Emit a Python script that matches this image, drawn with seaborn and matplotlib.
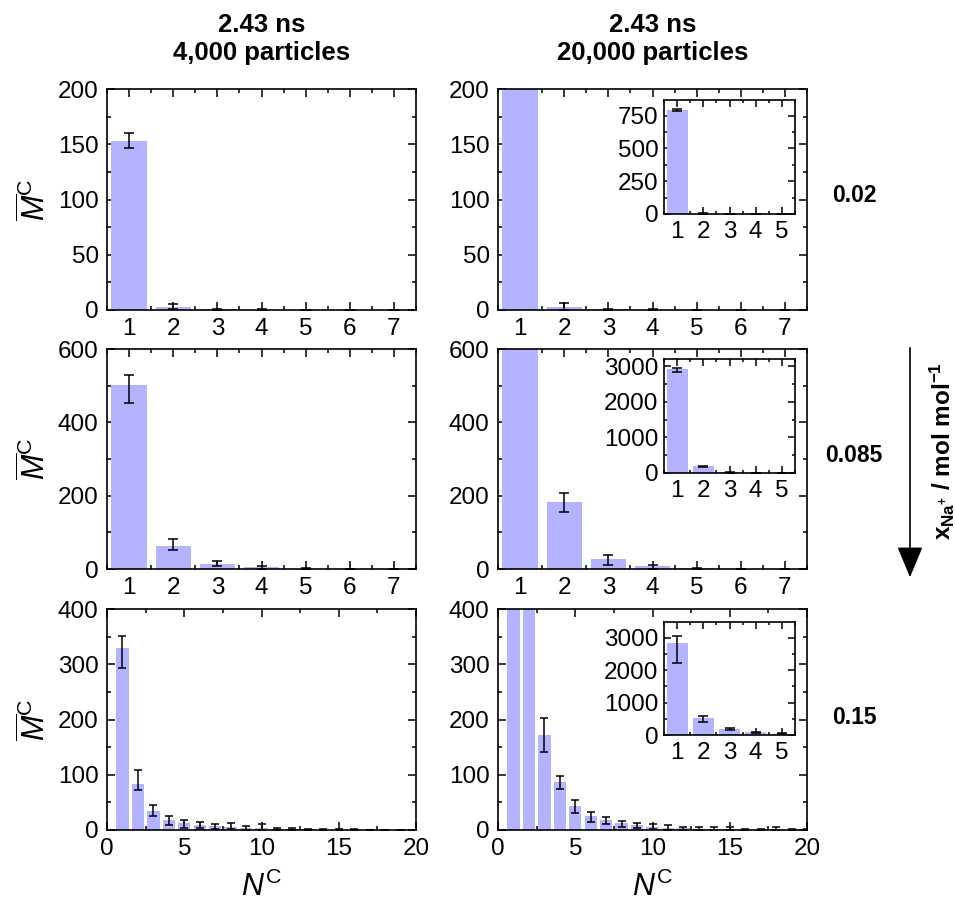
import numpy as np
import matplotlib
matplotlib.use("Agg")
import matplotlib.pyplot as plt
import seaborn as sns
from matplotlib.ticker import MultipleLocator

sns.set_style("ticks")
plt.rcParams['font.family'] = ['Liberation Sans', 'DejaVu Sans']
plt.rcParams['mathtext.fontset'] = 'custom'
plt.rcParams['mathtext.rm'] = 'Liberation Sans'
plt.rcParams['mathtext.it'] = 'Liberation Sans:italic'
plt.rcParams['mathtext.bf'] = 'Liberation Sans:bold'
for k in ['text.color', 'axes.labelcolor', 'xtick.color', 'ytick.color', 'axes.edgecolor']:
    plt.rcParams[k] = 'black'

# ---------------- data ----------------
N7 = [1, 2, 3, 4, 5, 6, 7]
N20 = list(range(1, 21))

# x = 0.02, 4,000 particles
m_002_4k = [153, 3, 0.5, 0.3, 0.2, 0.1, 0.1]
lo_002_4k = [6.5, 2, 0.4, 0.2, 0.1, 0.1, 0.1]
hi_002_4k = [7, 2.5, 0.5, 0.3, 0.2, 0.1, 0.1]

# x = 0.02, 20,000 particles
m_002_20k = [795, 2.5, 0.5, 0.3, 0.2, 0.1, 0.1]
lo_002_20k = [8, 2.5, 0.4, 0.2, 0.1, 0.1, 0.1]
hi_002_20k = [8, 4, 0.5, 0.3, 0.2, 0.1, 0.1]

# x = 0.085, 4,000 particles
m_0085_4k = [502, 64, 15, 4.5, 1, 0.5, 0.3]
lo_0085_4k = [48, 12, 7, 4.5, 1, 0.5, 0.3]
hi_0085_4k = [28, 18, 7, 3.5, 1.5, 0.5, 0.3]

# x = 0.085, 20,000 particles
m_0085_20k = [2906, 183, 27, 7, 2, 0.5, 0.3]
lo_0085_20k = [66, 28, 16, 7, 2, 0.5, 0.3]
hi_0085_20k = [28, 24, 11, 4, 2, 0.5, 0.3]

# x = 0.15, 4,000 particles
m_015_4k = [329, 84, 34, 18, 12, 9, 7, 5.5, 3.6, 3, 2, 1.8, 1, 0.8, 0.6, 0.5, 0.4, 0.3, 0.3, 0.2]
lo_015_4k = [36, 12, 9, 9, 8, 5, 5, 3.5, 3.6, 3, 2, 1.8, 1, 0.8, 0.6, 0.5, 0.4, 0.3, 0.3, 0.2]
hi_015_4k = [23, 24, 11, 7, 6, 6, 4, 7.5, 3.4, 8, 2, 1.8, 1, 0.8, 0.6, 0.5, 0.4, 0.3, 0.3, 0.2]

# x = 0.15, 20,000 particles
m_015_20k = [2837, 514, 172, 86, 43, 25, 18, 12, 8.4, 6, 4, 3, 2.4, 2.4, 1.8, 1.2, 1, 1.5, 0.6, 0.5]
lo_015_20k = [607, 103, 30, 12, 13, 10, 7, 6, 5.4, 4, 4, 3, 2.4, 2.4, 1.8, 1.2, 1, 1.5, 0.6, 0.5]
hi_015_20k = [215, 61, 30, 11, 12, 8, 6, 5, 4.6, 5, 5, 3, 2.4, 2.4, 4, 1.2, 1, 3.5, 0.6, 0.5]

col_titles = ["2.43 ns\n4,000 particles", "2.43 ns\n20,000 particles"]
row_labels = ["0.02", "0.085", "0.15"]

BAR = "#b3b3ff"

fig = plt.figure(figsize=(9.55, 9.14), dpi=100)

W, H = 955, 914
def px_axes(x0, y0, x1, y1):
    return fig.add_axes([x0 / W, 1 - y1 / H, (x1 - x0) / W, (y1 - y0) / H])

lefts = [107, 498]
tops = [(89, 310), (349, 569), (609, 830)]


def style(ax, fs=17.5, maj=6, mnr=3):
    ax.tick_params(which='both', direction='in', top=True, right=True,
                   labelsize=fs, width=1.1, pad=6, colors='black')
    ax.tick_params(which='major', length=maj)
    ax.tick_params(which='minor', length=mnr)
    for s in ax.spines.values():
        s.set_linewidth(1.2)
        s.set_color('black')
    ax.set_xlabel("")
    ax.set_ylabel("")


def draw(ax, N, m, lo, hi, cap):
    sns.barplot(x=N, y=m, native_scale=True, color=BAR, saturation=1,
                width=0.8, errorbar=None, ax=ax, linewidth=0)
    ax.errorbar(N, m, yerr=[lo, hi], fmt='none', ecolor='black',
                elinewidth=1.1, capsize=cap, capthick=1.1)


panels = [
    [(N7, m_002_4k, lo_002_4k, hi_002_4k), (N7, m_002_20k, lo_002_20k, hi_002_20k)],
    [(N7, m_0085_4k, lo_0085_4k, hi_0085_4k), (N7, m_0085_20k, lo_0085_20k, hi_0085_20k)],
    [(N20, m_015_4k, lo_015_4k, hi_015_4k), (N20, m_015_20k, lo_015_20k, hi_015_20k)],
]
ylims = [(200, 50, 25), (600, 200, 100), (400, 100, 50)]

for r in range(3):
    for c in range(2):
        x0 = lefts[c]
        y0, y1 = tops[r]
        ax = px_axes(x0, y0, x0 + 309, y1)
        N, m, lo, hi = panels[r][c]
        draw(ax, N, m, lo, hi, 3.5 if r < 2 else 3)
        top, maj, mnr = ylims[r]
        ax.set_ylim(0, top)
        ax.yaxis.set_major_locator(MultipleLocator(maj))
        ax.yaxis.set_minor_locator(MultipleLocator(mnr))
        if r < 2:
            ax.set_xlim(0.5, 7.5)
            ax.xaxis.set_major_locator(MultipleLocator(1))
            ax.xaxis.set_minor_locator(MultipleLocator(0.5))
        else:
            ax.set_xlim(0, 20)
            ax.xaxis.set_major_locator(MultipleLocator(5))
            ax.xaxis.set_minor_locator(MultipleLocator(2.5))
        style(ax)
        if c == 0:
            ax.set_ylabel(r"$\overline{M}^{\mathrm{C}}$", fontsize=22, labelpad=4)
        if r == 2:
            ax.set_xlabel(r"$N^{\mathrm{C}}$", fontsize=22, labelpad=8)

# insets (20,000 particles)
inset_rows = [(100, 214), (359, 473), (622, 735)]
inset_y = [(870, 250, 125), (3200, 1000, 500), (3480, 1000, 500)]
for r in range(3):
    y0, y1 = inset_rows[r]
    ax = px_axes(664, y0, 795, y1)
    N, m, lo, hi = panels[r][1]
    draw(ax, N[:5], m[:5], lo[:5], hi[:5], 3.5)
    ax.set_xlim(0.5, 5.5)
    ax.xaxis.set_major_locator(MultipleLocator(1))
    ax.xaxis.set_minor_locator(MultipleLocator(0.5))
    top, maj, mnr = inset_y[r]
    ax.set_ylim(0, top)
    ax.yaxis.set_major_locator(MultipleLocator(maj))
    ax.yaxis.set_minor_locator(MultipleLocator(mnr))
    style(ax, fs=17.5, maj=5, mnr=2.5)
    ax.tick_params(axis='y', pad=4)
    ax.tick_params(axis='x', pad=5)

# column titles
for c, t in enumerate(col_titles):
    xc = (lefts[c] + 154.5) / W
    fig.text(xc, 1 - 60 / H, t, ha='center', va='baseline', fontsize=18.5,
             fontweight='bold', linespacing=1.2)

# row labels
for ylab, ypx in zip(row_labels, [195, 455, 717]):
    fig.text(854 / W, 1 - ypx / H, ylab, ha='center', va='center',
             fontsize=16.5, fontweight='bold')

# arrow
fig.patches.append(matplotlib.patches.FancyArrowPatch(
    (910 / W, 1 - 345 / H), (910 / W, 1 - 580 / H),
    transform=fig.transFigure, arrowstyle='-|>,head_length=1.2,head_width=0.5',
    mutation_scale=16, color='black', linewidth=1.2))
fig.text(942 / W, 1 - 451 / H,
         r"$\mathbf{x}_{\mathbf{Na^{+}}}$ / mol mol$^{\mathbf{-1}}$",
         rotation=90, ha='center', va='center', fontsize=17.5, fontweight='bold')

fig.savefig("out.png", dpi=100)
